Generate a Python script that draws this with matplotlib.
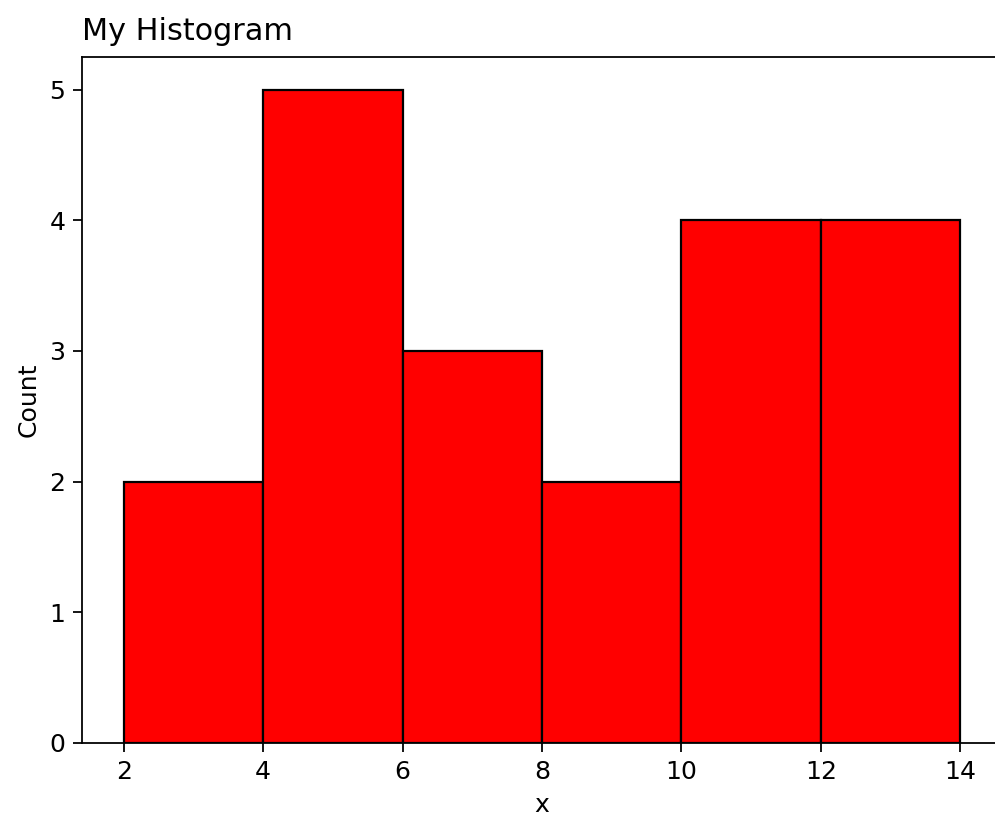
import matplotlib
matplotlib.use("Agg")
import matplotlib.pyplot as plt
import numpy as np

# Histogram bins and their counts
bin_edges = [2, 4, 6, 8, 10, 12, 14]
counts = [2, 5, 3, 2, 4, 4]

DPI = 160
plt.rcParams["xtick.labelsize"] = 11.3
plt.rcParams["ytick.labelsize"] = 11.3
plt.rcParams["axes.labelsize"] = 11.3
plt.rcParams["axes.titlesize"] = 13.6
plt.rcParams["xtick.major.size"] = 4
plt.rcParams["ytick.major.size"] = 4

fig = plt.figure(figsize=(995 / DPI, 819 / DPI), dpi=DPI)
W, H = 995, 819
left, right = 82, 1002
bottom, top = 743, 57
ax = fig.add_axes([left / W, (H - bottom) / H, (right - left) / W, (bottom - top) / H])

ax.hist(bin_edges[:-1], bins=bin_edges, weights=counts,
        color="red", edgecolor="black")

ax.set_xlim(1.4, 14.6)
ax.set_ylim(0, 5.25)
ax.set_xticks([2, 4, 6, 8, 10, 12, 14])
ax.set_yticks([0, 1, 2, 3, 4, 5])
ax.set_xlabel("x")
ax.set_ylabel("Count")
ax.set_title("My Histogram", loc="left", pad=7.5)

fig.savefig("out.png", dpi=DPI)
